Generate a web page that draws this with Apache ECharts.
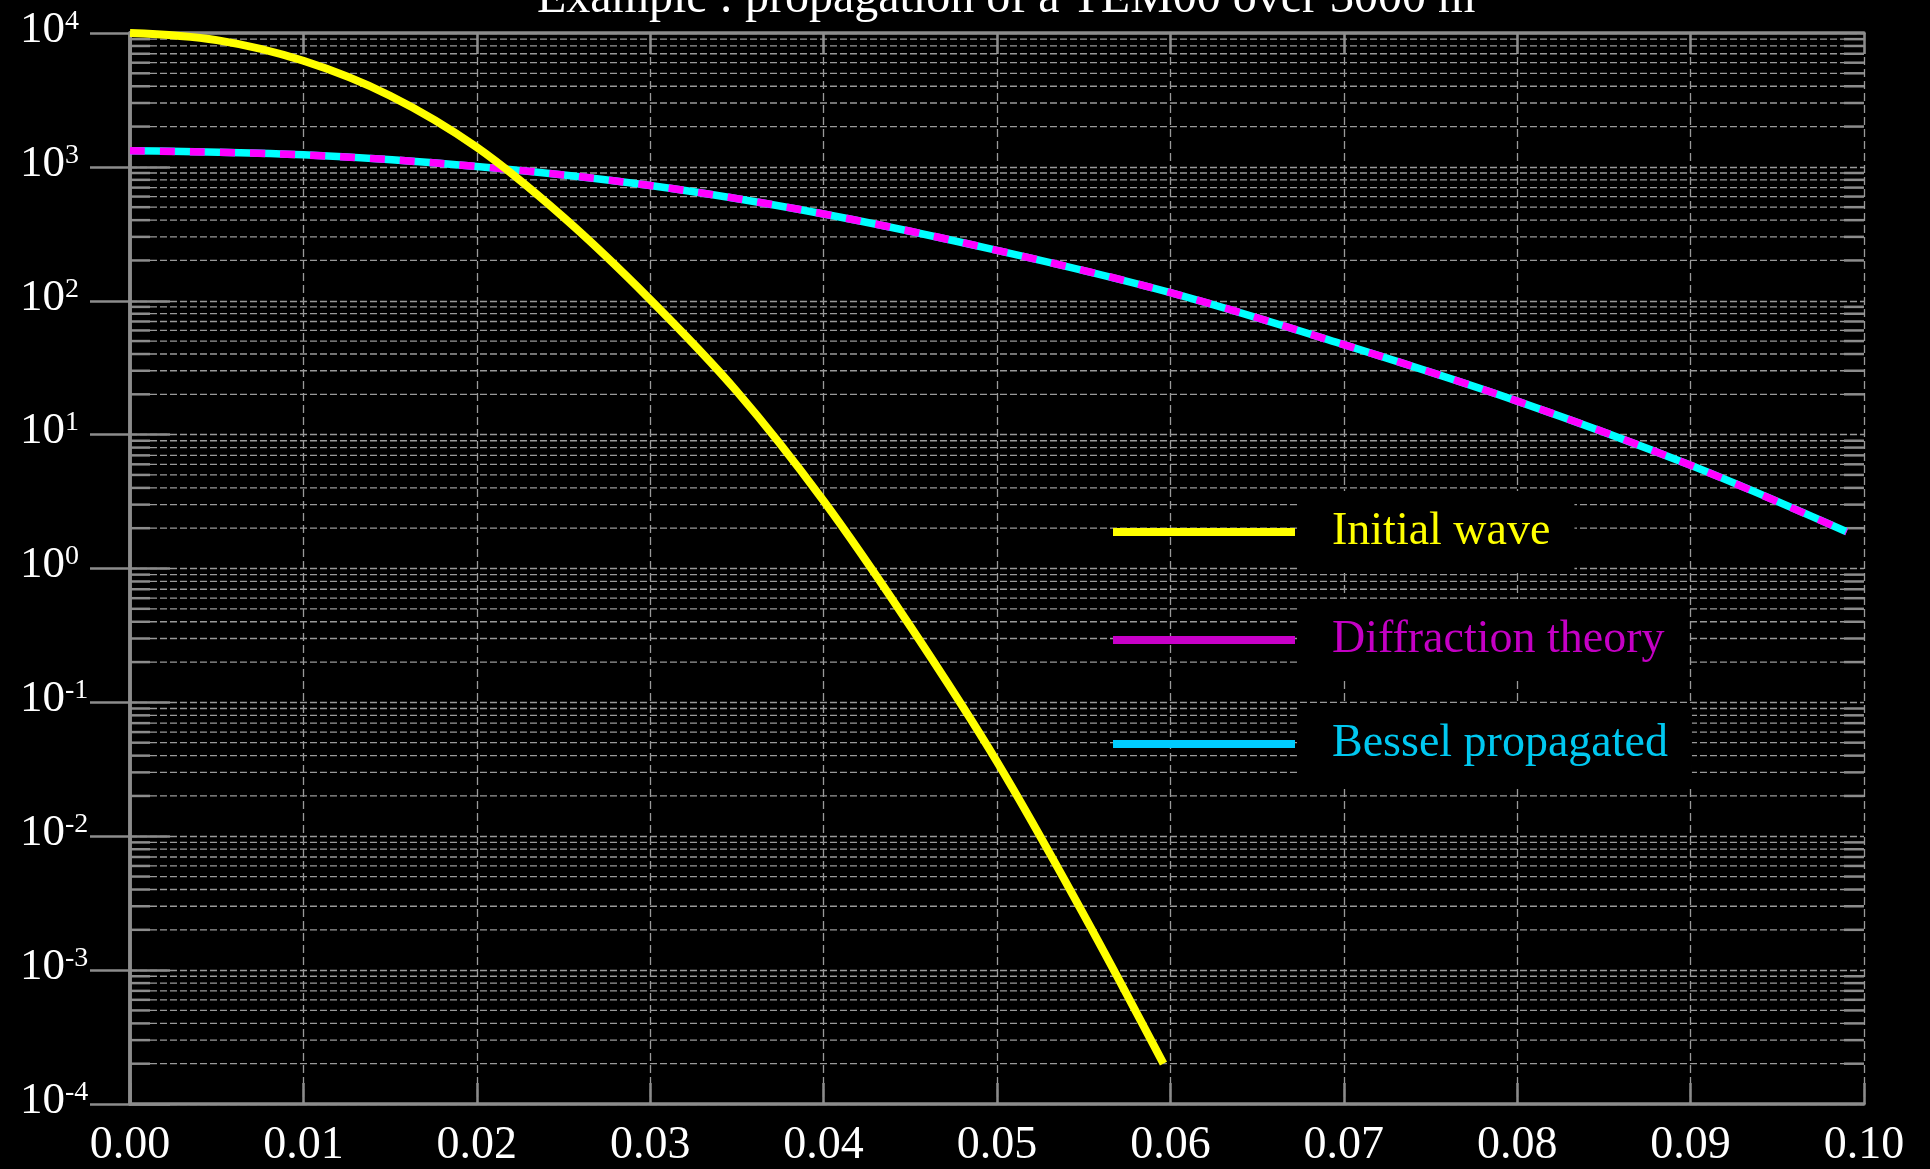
<!DOCTYPE html>
<html>
<head>
<meta charset="utf-8">
<title>Propagation of a TEM00 over 3000 m</title>
<script src="https://cdn.jsdelivr.net/npm/echarts@6/dist/echarts.min.js"></script>
<style>
  html, body { margin: 0; padding: 0; background: #000; }
  #chart { width: 1930px; height: 1169px; }
</style>
</head>
<body>
<div id="chart"></div>
<script>
// Radial intensity profiles (radius in m, intensity on a log scale)
const RADIUS_INITIAL = [0, 0.005, 0.01, 0.015, 0.02, 0.025, 0.03, 0.035, 0.04, 0.045, 0.05, 0.055, 0.0596];
const INTENSITY_INITIAL = [10000, 8850, 6200, 3400, 1400, 420, 102, 21, 3.2, 0.37, 0.036, 0.0026, 0.0002];

const RADIUS_PROPAGATED = [0, 0.01, 0.02, 0.03, 0.04, 0.05, 0.06, 0.07, 0.08, 0.09, 0.099];
const INTENSITY_DIFFRACTION = [1320, 1230, 1007, 726, 445, 238, 115, 47, 17.8, 5.9, 1.88];
const INTENSITY_BESSEL = [1320, 1230, 1007, 726, 445, 238, 115, 47, 17.8, 5.9, 1.88];

// Axis ranges and tick layout
const X_MIN = 0, X_MAX = 0.10, X_STEP = 0.01;
const Y_MIN = 1e-4, Y_MAX = 1e4;
const DECADE_EXPONENTS = [-4, -3, -2, -1, 0, 1, 2, 3];
const MINOR_MANTISSAS = [2, 3, 4, 5, 6, 7, 8, 9];

const TITLE = 'Example : propagation of a TEM00 over 3000 m';
const SERIES_NAMES = ['Initial wave', 'Diffraction theory', 'Bessel propagated'];

const FONT = "'Liberation Serif', 'DejaVu Serif', serif";
const AXIS_COLOR = '#8c8c8c';
const GRID_COLOR = '#9a9a9a';
const MAJOR_TICK = 40;
const MINOR_TICK = 20;

const minorValues = [];
DECADE_EXPONENTS.forEach(function (e) {
  MINOR_MANTISSAS.forEach(function (m) { minorValues.push(m * Math.pow(10, e)); });
});

function pairs(xs, ys) { return xs.map(function (x, i) { return [x, ys[i]]; }); }

const chart = echarts.init(document.getElementById('chart'), null, { renderer: 'canvas' });

const legendText = {
  fontFamily: FONT,
  fontSize: 46,
  lineHeight: 46,
  backgroundColor: '#000',
  padding: [18, 24, 18, 32]
};
function legendBlock(name, lineColor, textColor, top) {
  return {
    left: 1113, top: top, padding: 0, itemGap: 0,
    itemWidth: 182, itemHeight: 8,
    selectedMode: false,
    textStyle: Object.assign({}, legendText, { color: textColor }),
    data: [{
      name: name, icon: 'rect',
      itemStyle: { color: lineColor, borderWidth: 0, borderColor: lineColor, borderType: 'solid', decal: 'none' },
      lineStyle: { color: lineColor, width: 0, type: 'solid' },
      textStyle: { color: textColor }
    }]
  };
}

const xAxisCommon = {
  type: 'value', min: X_MIN, max: X_MAX, interval: X_STEP,
  axisLine: { show: true, onZero: false, lineStyle: { color: AXIS_COLOR, width: 3.5 } },
  axisTick: { show: true, inside: true, length: 21, lineStyle: { color: AXIS_COLOR, width: 2.5 } }
};
const yAxisCommon = {
  type: 'log', logBase: 10, min: Y_MIN, max: Y_MAX, splitNumber: 8,
  axisLine: { show: true, lineStyle: { color: AXIS_COLOR, width: 3.5 } },
  axisTick: { show: true, inside: true, length: MAJOR_TICK, lineStyle: { color: AXIS_COLOR, width: 2.5 } }
};

const option = {
  backgroundColor: '#000',
  animation: false,
  title: {
    text: TITLE,
    left: 537,
    top: -25,
    padding: 0,
    textStyle: { color: '#fff', fontFamily: FONT, fontSize: 48, fontWeight: 'normal' }
  },
  legend: [
    legendBlock(SERIES_NAMES[0], '#ffff00', '#ffff00', 491),
    legendBlock(SERIES_NAMES[1], '#c800c8', '#c400c4', 599),
    legendBlock(SERIES_NAMES[2], '#00ccff', '#00c8f0', 703)
  ],
  grid: { left: 130, right: 66, top: 33, bottom: 63, containLabel: false },
  xAxis: [
    Object.assign({}, xAxisCommon, {
      position: 'bottom',
      axisLabel: {
        color: '#fff', fontFamily: FONT, fontSize: 46, margin: 19,
        formatter: function (v) { return v.toFixed(2); }
      },
      splitLine: { show: true, lineStyle: { color: GRID_COLOR, width: 1.3, type: [8, 4] } }
    }),
    Object.assign({}, xAxisCommon, {
      position: 'top',
      axisLabel: { show: false },
      splitLine: { show: false }
    })
  ],
  yAxis: [
    Object.assign({}, yAxisCommon, {
      position: 'left',
      axisLabel: {
        align: 'left', margin: 110, padding: [0, 0, 6, 0],
        formatter: function (v) {
          return '{b|10}{s|' + Math.round(Math.log10(v)) + '}';
        },
        rich: {
          b: { color: '#fff', fontFamily: FONT, fontSize: 45, lineHeight: 45 },
          s: { color: '#fff', fontFamily: FONT, fontSize: 28, lineHeight: 24, verticalAlign: 'top' }
        }
      },
      splitLine: { show: true, lineStyle: { color: GRID_COLOR, width: 1.3, type: [7, 3] } }
    }),
    Object.assign({}, yAxisCommon, {
      position: 'right',
      axisLabel: { show: false },
      splitLine: { show: false }
    })
  ],
  series: [
    {
      // minor log gridlines with short inner ticks on both sides
      name: 'minor grid',
      type: 'custom',
      coordinateSystem: 'cartesian2d',
      silent: true,
      z: 1,
      data: minorValues.map(function (v) { return [X_MIN, v]; }),
      renderItem: function (params, api) {
        const v = api.value(1);
        const a = api.coord([X_MIN, v]);
        const b = api.coord([X_MAX, v]);
        const tickStyle = { stroke: AXIS_COLOR, lineWidth: 2.5 };
        return {
          type: 'group',
          children: [
            { type: 'line', shape: { x1: a[0] + MINOR_TICK, y1: a[1], x2: b[0] - MINOR_TICK, y2: b[1] },
              style: { stroke: GRID_COLOR, lineWidth: 1.3, lineDash: [7, 3] } },
            { type: 'line', shape: { x1: a[0], y1: a[1], x2: a[0] + MINOR_TICK, y2: a[1] }, style: tickStyle },
            { type: 'line', shape: { x1: b[0] - MINOR_TICK, y1: b[1], x2: b[0], y2: b[1] }, style: tickStyle }
          ]
        };
      }
    },
    {
      name: SERIES_NAMES[0],
      type: 'line',
      data: pairs(RADIUS_INITIAL, INTENSITY_INITIAL),
      showSymbol: false, smooth: 0.35, z: 4,
      lineStyle: { color: '#ffff00', width: 8 },
      itemStyle: { color: '#ffff00' },
      emphasis: { disabled: true }
    },
    {
      name: SERIES_NAMES[2],
      type: 'line',
      data: pairs(RADIUS_PROPAGATED, INTENSITY_BESSEL),
      showSymbol: false, smooth: 0.35, z: 3,
      lineStyle: { color: '#00ffff', width: 7.5 },
      itemStyle: { color: '#00ccff' },
      emphasis: { disabled: true }
    },
    {
      name: SERIES_NAMES[1],
      type: 'line',
      data: pairs(RADIUS_PROPAGATED, INTENSITY_DIFFRACTION),
      showSymbol: false, smooth: 0.35, z: 3,
      lineStyle: { color: '#ff00ff', width: 7.5, type: [15, 15] },
      itemStyle: { color: '#c800c8' },
      emphasis: { disabled: true }
    }
  ]
};

chart.setOption(option);
</script>
</body>
</html>
